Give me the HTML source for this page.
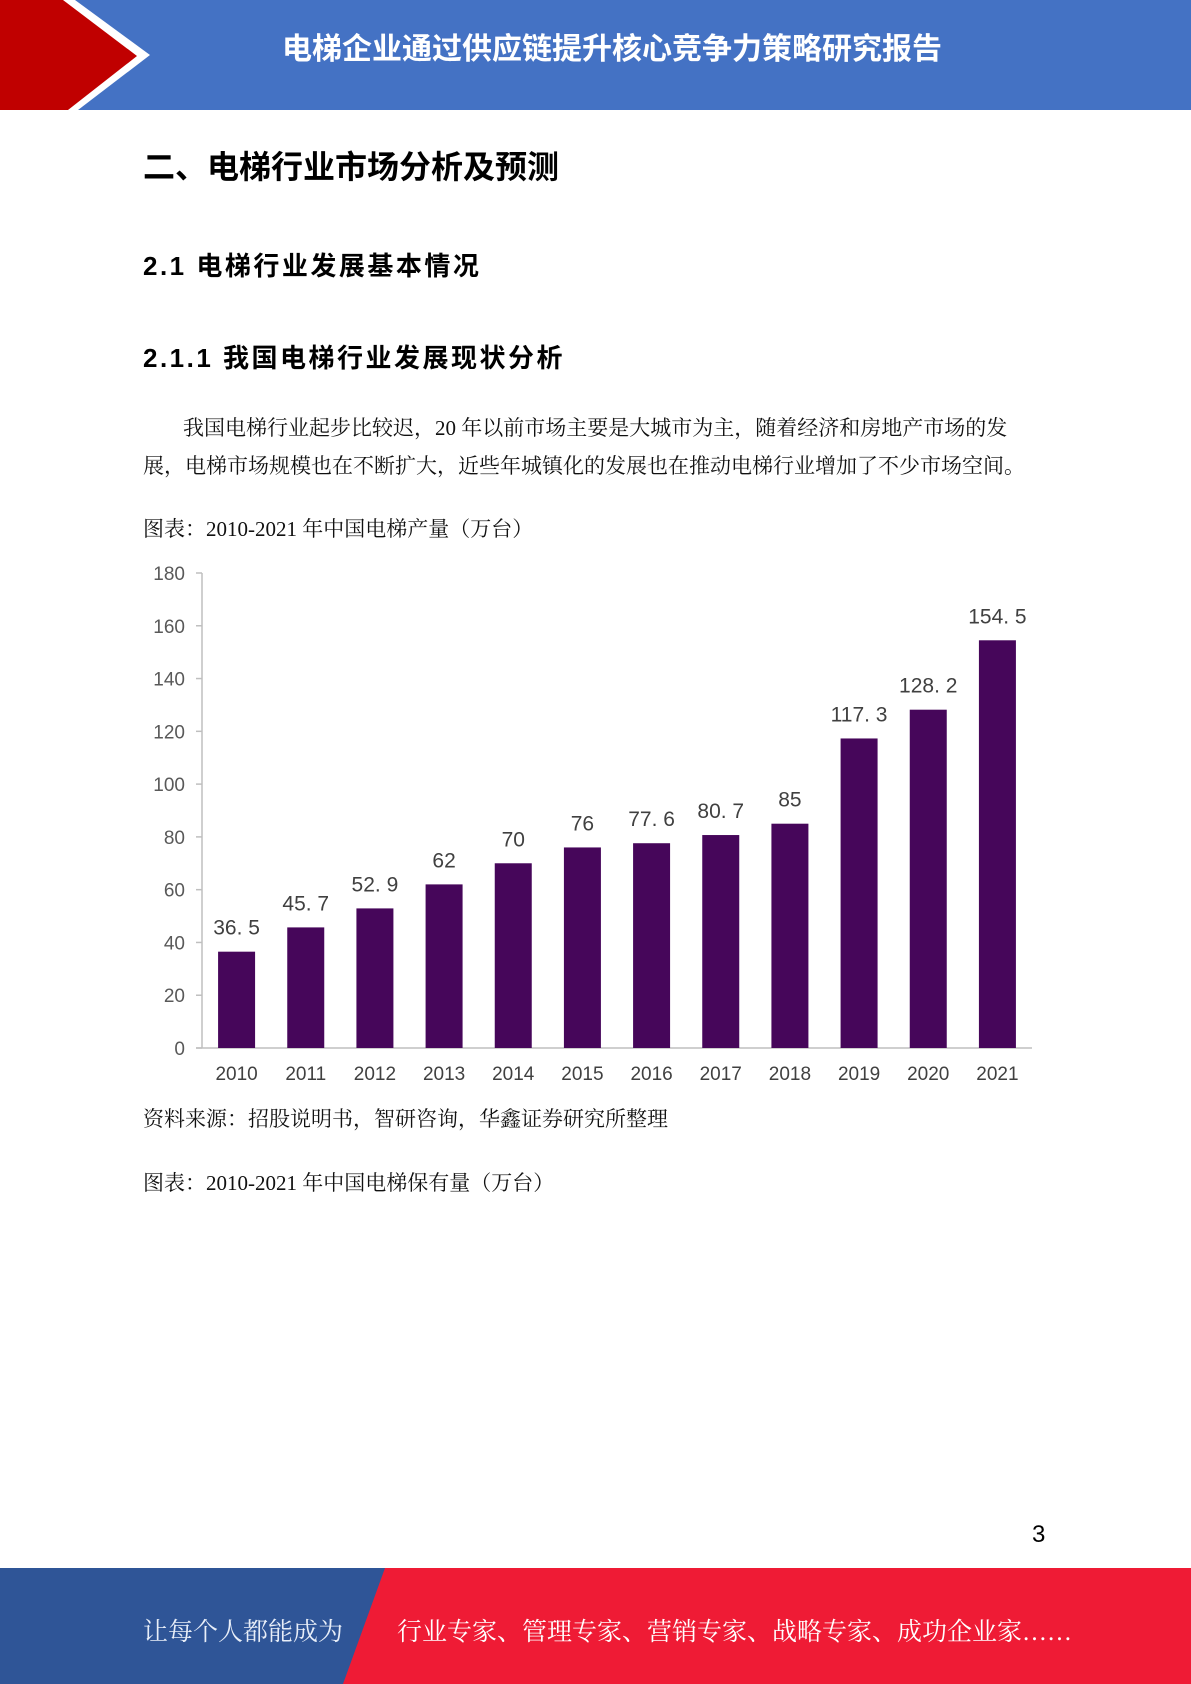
<!DOCTYPE html>
<html><head><meta charset="utf-8"><style>
body{margin:0;width:1191px;height:1684px;position:relative;background:#fff;overflow:hidden;font-family:"Liberation Serif","Noto Serif CJK SC",serif;}
.a{position:absolute;white-space:nowrap;}
.h{font-family:"Liberation Sans","Noto Sans CJK SC",sans-serif;font-weight:bold;color:#000;}
.p{font-size:21px;color:#111;}
</style></head><body>
<svg class="a" style="left:0;top:0" width="1191" height="112">
<rect x="0" y="0" width="1191" height="110" fill="#4472c4"/>
<polygon points="0,0 75,0 150,55 78,110 0,110" fill="#fff"/>
<polygon points="0,0 63,0 137,56 68,110 0,110" fill="#c00000"/>
<text x="612" y="59" text-anchor="middle" fill="#fff" font-size="30" font-weight="bold" font-family="Liberation Sans, Noto Sans CJK SC, sans-serif">电梯企业通过供应链提升核心竞争力策略研究报告</text>
</svg>
<div class="a h" style="left:143px;top:142px;font-size:32px">二、电梯行业市场分析及预测</div>
<div class="a h" style="left:143px;top:246px;font-size:26px;letter-spacing:2.5px">2.1 电梯行业发展基本情况</div>
<div class="a h" style="left:143px;top:338px;font-size:26px;letter-spacing:2.5px">2.1.1 我国电梯行业发展现状分析</div>
<div class="a p" style="left:183px;top:412px">我国电梯行业起步比较迟，20 年以前市场主要是大城市为主，随着经济和房地产市场的发</div>
<div class="a p" style="left:143px;top:450px">展，电梯市场规模也在不断扩大，近些年城镇化的发展也在推动电梯行业增加了不少市场空间。</div>
<div class="a p" style="left:143px;top:513px">图表：2010-2021 年中国电梯产量（万台）</div>
<svg class="a" id="chart" style="left:0;top:0" width="1191" height="1100"></svg>
<div class="a p" style="left:143px;top:1103px">资料来源：招股说明书，智研咨询，华鑫证券研究所整理</div>
<div class="a p" style="left:143px;top:1167px">图表：2010-2021 年中国电梯保有量（万台）</div>
<div class="a" style="left:1032px;top:1521px;font-size:24px;font-family:'Liberation Sans',sans-serif">3</div>
<svg class="a" style="left:0;top:1568px" width="1191" height="116">
<rect x="0" y="0" width="1191" height="116" fill="#2f5597"/>
<polygon points="385,0 1191,0 1191,116 343,116" fill="#ef1b35"/>
<text x="143" y="72" fill="#e8eef8" font-size="25" font-family="Liberation Serif, Noto Serif CJK SC, serif">让每个人都能成为</text>
<text x="397" y="72" fill="#fff" font-size="25" font-family="Liberation Serif, Noto Serif CJK SC, serif">行业专家、管理专家、营销专家、战略专家、成功企业家……</text>
</svg>
<script>
const categories=["2010","2011","2012","2013","2014","2015","2016","2017","2018","2019","2020","2021"];
const values=[36.5,45.7,52.9,62,70,76,77.6,80.7,85,117.3,128.2,154.5];
const valueLabels=["36. 5","45. 7","52. 9","62","70","76","77. 6","80. 7","85","117. 3","128. 2","154. 5"];
const yTicks=[0,20,40,60,80,100,120,140,160,180];
const NS="http://www.w3.org/2000/svg";
const svg=document.getElementById('chart');
const x0=202,x1=1032,yTop=573,yBot=1048,yMax=180;
const y=v=>yBot-(v/yMax)*(yBot-yTop);
const step=(x1-x0)/categories.length;
const xc=i=>x0+step*(i+0.5);
function mk(t,a){const e=document.createElementNS(NS,t);for(const k in a)e.setAttribute(k,a[k]);svg.appendChild(e);return e;}
const font="Liberation Sans, DejaVu Sans, sans-serif";
let ax=mk('line',{x1:x0,y1:yTop,x2:x0,y2:yBot,stroke:'#bfbfbf','stroke-width':1.5});

let bx=mk('line',{x1:x0-6,y1:yBot,x2:x1,y2:yBot,stroke:'#bfbfbf','stroke-width':1.5});

yTicks.forEach(t=>{
 const l=mk('line',{x1:x0-6,y1:y(t),x2:x0,y2:y(t),stroke:'#bfbfbf','stroke-width':1.5});
 
 const tx=mk('text',{x:x0-17,y:y(t)+7,'text-anchor':'end','font-size':19,fill:'#595959','font-family':font});
 tx.textContent=t;
 
});
categories.forEach((c,i)=>{
 const bw=37;
 const r=mk('rect',{x:xc(i)-bw/2,y:y(values[i]),width:bw,height:yBot-y(values[i]),fill:'#46065a'});
 
 const lb=mk('text',{x:xc(i),y:y(values[i])-17,'text-anchor':'middle','font-size':21,fill:'#404040','font-family':font});
 lb.textContent=valueLabels[i];
 
 const xl=mk('text',{x:xc(i),y:yBot+32,'text-anchor':'middle','font-size':19,fill:'#404040','font-family':font});
 xl.textContent=c;
 
});
</script>
</body></html>
